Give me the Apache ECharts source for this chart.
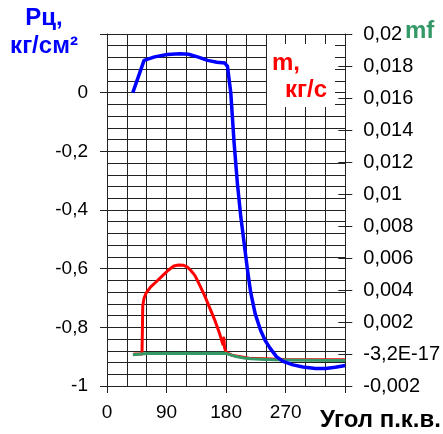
<!DOCTYPE html>
<html>
<head>
<meta charset="utf-8">
<script src="https://cdn.jsdelivr.net/npm/echarts@6/dist/echarts.min.js"></script>
<style>
  html, body { margin: 0; padding: 0; background: #fff; }
  #chart { width: 443px; height: 434px; }
</style>
</head>
<body>
<div id="chart"></div>
<script>
// Рц (давление), левая ось: [угол, кг/см2]
const pcData = [
  [39, 0], [56, 0.11], [72, 0.122], [91, 0.13], [110, 0.133], [123, 0.131],
  [138, 0.121], [152, 0.11], [166, 0.104], [178, 0.101], [182, 0.09],
  [187, 0.0], [192, -0.17], [197, -0.31], [202, -0.42], [207, -0.51],
  [212, -0.6], [217, -0.68], [224, -0.755], [232, -0.81], [239, -0.845],
  [246, -0.87], [256, -0.9], [266, -0.916], [281, -0.928], [296, -0.935],
  [315, -0.94], [330, -0.94], [345, -0.936], [360, -0.93]
];
// m, кг/с — правая ось
const mData = [
  [40, 0], [52.8, 0], [53.5, 0.0015], [54, 0.003], [56, 0.0035], [59, 0.0038],
  [66, 0.0042], [74, 0.0045], [84, 0.0049], [93, 0.00525], [101, 0.0055],
  [108, 0.00556], [115, 0.00555], [121, 0.00545], [127, 0.0052], [133, 0.0049],
  [140, 0.0043], [148, 0.0036], [155, 0.0029], [163, 0.0021], [170, 0.0013],
  [175, 0.0006], [176.5, 0.001], [177.5, 0.0004], [180, 0.0001],
  [190, -0.0001], [215, -0.00027], [270, -0.00034], [360, -0.00036]
];
// mf — правая ось
const mfData = [
  [39, -0.00005], [60, 0.00003], [180, 0.00004], [183, 0.00008], [190, -0.0001],
  [197, -0.00017], [207, -0.00025], [217, -0.0003], [240, -0.00034],
  [266, -0.00037], [300, -0.00039], [360, -0.0004]
];
// оси
const xTicks = [0, 90, 180, 270];
const leftRange = [-1, 0.2];
const rightRange = [-0.002, 0.02];

const font = "'Liberation Sans', Arial, sans-serif";
const narrow = "'Liberation Sans Narrow', 'Arial Narrow', 'Liberation Sans', sans-serif";
const lineCol = '#222';

const chart = echarts.init(document.getElementById('chart'));
chart.setOption({
  animation: false,
  grid: { left: 107, right: 93, top: 34, bottom: 48 },
  xAxis: {
    type: 'value', min: 0, max: 360, interval: 90,
    axisLine: { onZero: false, lineStyle: { color: lineCol, width: 1 } },
    axisTick: { length: 7, lineStyle: { color: lineCol } },
    minorTick: { show: false, splitNumber: 3 },
    splitLine: { lineStyle: { color: lineCol, width: 1 } },
    minorSplitLine: { show: true, lineStyle: { color: lineCol, width: 1 } },
    axisLabel: {
      margin: 17, color: '#000', fontSize: 19, fontFamily: font,
      formatter: v => xTicks.includes(v) ? String(v) : ''
    }
  },
  yAxis: [
    {
      type: 'value', min: leftRange[0], max: leftRange[1], interval: 0.2,
      position: 'left',
      axisLine: { show: true, lineStyle: { color: lineCol, width: 1 } },
      axisTick: { show: true, length: 7, lineStyle: { color: lineCol } },
      minorTick: { show: false, splitNumber: 5 },
      splitLine: { lineStyle: { color: lineCol, width: 1 } },
      minorSplitLine: { show: true, lineStyle: { color: lineCol, width: 1 } },
      axisLabel: {
        margin: 19, color: '#000', fontSize: 19, fontFamily: font,
        formatter: v => {
          const r = Math.round(v * 10) / 10;
          if (r > 0.1) return '';
          return String(r).replace('.', ',');
        }
      }
    },
    {
      type: 'value', min: rightRange[0], max: rightRange[1], interval: 0.002,
      position: 'right',
      axisLine: { show: true, lineStyle: { color: lineCol, width: 1 } },
      axisTick: { show: true, length: 7, lineStyle: { color: lineCol } },
      splitLine: { show: false },
      axisLabel: {
        margin: 18, color: '#000', fontSize: 20, fontFamily: narrow,
        formatter: v => {
          if (Math.abs(v) < 1e-9) return '-3,2E-17';
          return String(+v.toFixed(3)).replace('.', ',');
        }
      }
    },
    {
      type: 'value', min: rightRange[0], max: rightRange[1], interval: 0.002,
      position: 'right',
      axisLine: { show: false },
      axisTick: { show: true, inside: true, length: 7, lineStyle: { color: lineCol } },
      splitLine: { show: false },
      axisLabel: { show: false }
    }
  ],
  graphic: [
    { type: 'rect', shape: { x: 267, y: 44, width: 68, height: 63 },
      style: { fill: '#fff' }, z: 100 },
    { type: 'text', x: 272, y: 63, z: 101,
      style: { text: 'm,', fill: '#ff0000', font: 'bold 24px ' + font, verticalAlign: 'middle' } },
    { type: 'text', x: 285, y: 90, z: 101,
      style: { text: 'кг/с', fill: '#ff0000', font: 'bold 24px ' + font, verticalAlign: 'middle' } },
    { type: 'text', x: 44, y: 18, z: 101,
      style: { text: 'Рц,', fill: '#0000ff', font: 'bold 24px ' + font, align: 'center', verticalAlign: 'middle' } },
    { type: 'text', x: 44, y: 46, z: 101,
      style: { text: 'кг/см²', fill: '#0000ff', font: 'bold 24px ' + font, align: 'center', verticalAlign: 'middle' } },
    { type: 'text', x: 405, y: 31, z: 101,
      style: { text: 'mf', fill: '#339966', font: 'bold 24px ' + font, verticalAlign: 'middle' } },
    { type: 'text', x: 320, y: 420, z: 101,
      style: { text: 'Угол п.к.в.', fill: '#000', font: 'bold 24px ' + font, verticalAlign: 'middle' } }
  ],
  series: [
    {
      name: 'm', type: 'line', yAxisIndex: 1, data: mData, showSymbol: false,
      lineStyle: { color: '#ff0000', width: 3, join: 'round' }
    },
    {
      name: 'mf', type: 'line', yAxisIndex: 1, data: mfData, showSymbol: false,
      lineStyle: { color: '#339966', width: 3, join: 'round' }
    },
    {
      name: 'Рц', type: 'line', yAxisIndex: 0, data: pcData, showSymbol: false,
      lineStyle: { color: '#0000ff', width: 3.5, join: 'round' }
    }
  ]
});
</script>
</body>
</html>
